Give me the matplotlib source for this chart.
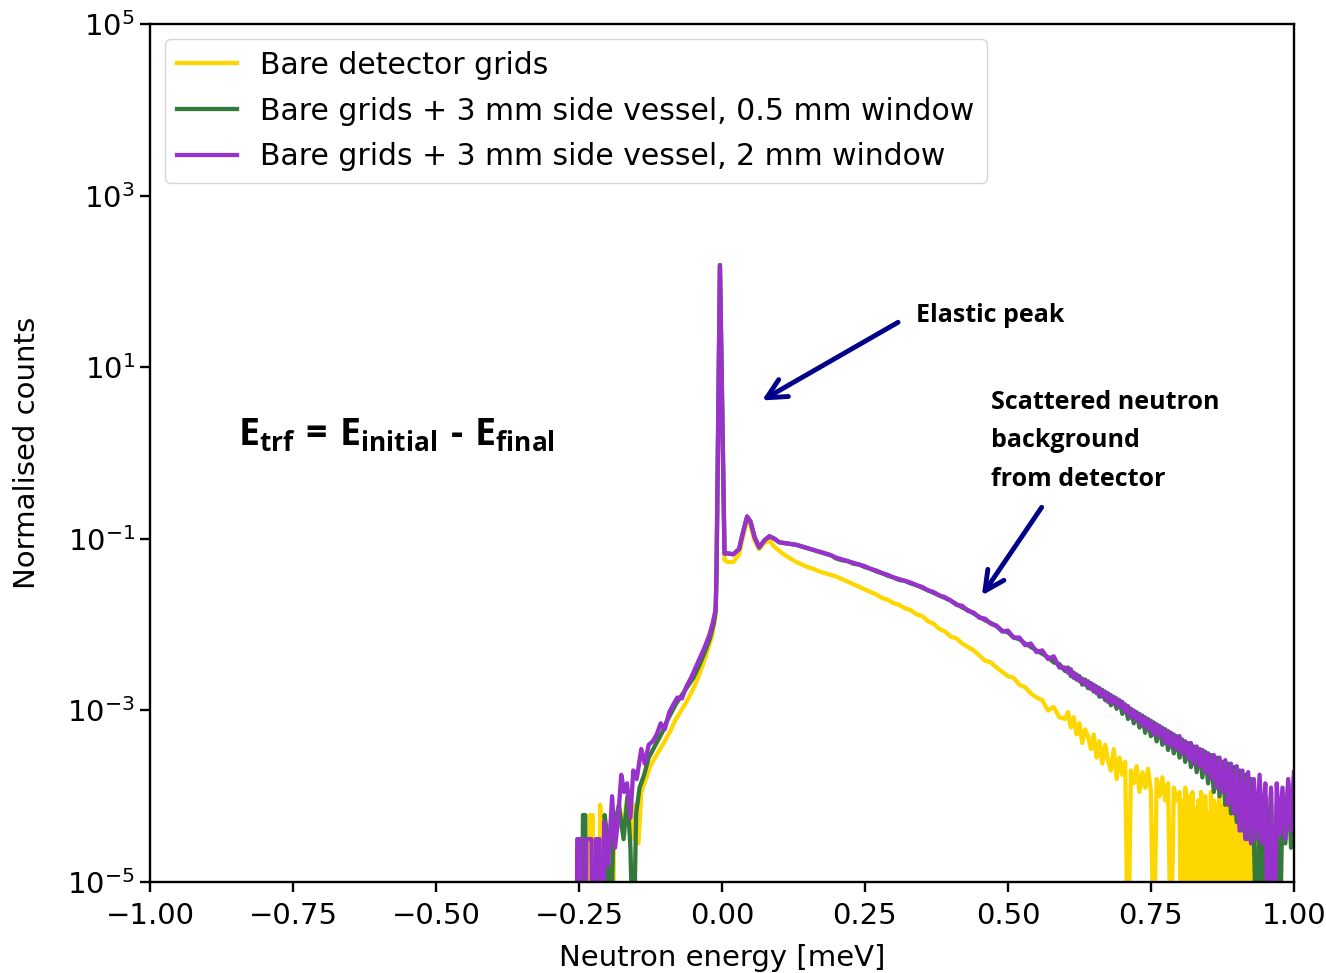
import numpy as np
import matplotlib
matplotlib.use('Agg')
import matplotlib.pyplot as plt
from matplotlib.ticker import NullLocator

# shared energy grid for the tail (meV)
e_tail = [0.20, 0.21, 0.22, 0.23, 0.24, 0.25, 0.26, 0.27, 0.28, 0.29,
          0.30, 0.31, 0.32, 0.33, 0.34, 0.35, 0.36, 0.37, 0.38, 0.39,
          0.40, 0.41, 0.42, 0.43, 0.44, 0.45, 0.46, 0.47, 0.48, 0.49,
          0.50, 0.51, 0.52, 0.53, 0.54, 0.55, 0.56, 0.57, 0.58, 0.59,
          0.600, 0.605, 0.610, 0.615, 0.620, 0.625, 0.630, 0.635, 0.640, 0.645,
          0.650, 0.655, 0.660, 0.665, 0.670, 0.675, 0.680, 0.685, 0.690, 0.695,
          0.700, 0.705, 0.710, 0.715, 0.720, 0.725, 0.730, 0.735, 0.740, 0.745,
          0.750, 0.755, 0.760, 0.765, 0.770, 0.775, 0.780, 0.785, 0.790, 0.795,
          0.800, 0.805, 0.810, 0.815, 0.820, 0.825, 0.830, 0.835, 0.840, 0.845,
          0.850, 0.855, 0.860, 0.865, 0.870, 0.875, 0.880, 0.885, 0.890, 0.895,
          0.900, 0.905, 0.910, 0.915, 0.920, 0.925, 0.930, 0.935, 0.940, 0.945,
          0.950, 0.955, 0.960, 0.965, 0.970, 0.975, 0.980, 0.985, 0.990, 0.995,
          1.000]

# finer bins where the bare-grid curve keeps hitting zero
e_bare_end = [0.8000, 0.8025, 0.8050, 0.8075, 0.8100, 0.8125, 0.8150, 0.8175, 0.8200, 0.8225,
              0.8250, 0.8275, 0.8300, 0.8325, 0.8350, 0.8375, 0.8400, 0.8425, 0.8450, 0.8475,
              0.8500, 0.8525, 0.8550, 0.8575, 0.8600, 0.8625, 0.8650, 0.8675, 0.8700, 0.8725,
              0.8750, 0.8775, 0.8800, 0.8825, 0.8850, 0.8875, 0.8900, 0.8925, 0.8950, 0.8975,
              0.9000, 0.9025, 0.9050, 0.9075, 0.9100, 0.9125, 0.9150, 0.9175, 0.9200, 0.9225,
              0.9250, 0.9275, 0.9300, 0.9325, 0.9350, 0.9375, 0.9400]

# bare detector grids (log10 of normalised counts)
e_bare_head = [-0.232, -0.231, -0.226, -0.225, -0.214, -0.213, -0.208, -0.203, -0.190, -0.189,
               -0.180, -0.172, -0.165, -0.158, -0.152, -0.146, -0.141, -0.134, -0.126, -0.117,
               -0.108, -0.100, -0.091, -0.082, -0.073, -0.062, -0.051, -0.042, -0.033, -0.025,
               -0.017, -0.011, -0.0095, -0.0035, 0.0045, 0.010, 0.020, 0.030, 0.037, 0.044,
               0.050, 0.057, 0.065, 0.074, 0.083, 0.090, 0.100, 0.110, 0.120, 0.130,
               0.140, 0.150, 0.160, 0.170, 0.180, 0.190]
lc_bare_head = [-6, -4.22, -4.22, -6, -6, -4.1, -4.6, -6, -6, -4.4,
                -4.2, -4.3, -4.0, -4.5, -4.1, -4.55, -3.95, -3.82, -3.66, -3.55,
                -3.45, -3.36, -3.25, -3.12, -3.02, -2.90, -2.76, -2.62, -2.46, -2.30,
                -2.12, -1.88, -1.45, 2.19, -1.25, -1.27, -1.27, -1.18, -0.97, -0.78,
                -0.84, -1.02, -1.12, -1.05, -1.02, -1.08, -1.14, -1.19, -1.23, -1.27,
                -1.30, -1.33, -1.35, -1.38, -1.40, -1.42]
lc_bare_tail = [-1.44, -1.47, -1.50, -1.53, -1.56, -1.59, -1.62, -1.65, -1.69, -1.71,
                -1.75, -1.77, -1.81, -1.83, -1.88, -1.90, -1.96, -1.99, -2.05, -2.08,
                -2.14, -2.16, -2.22, -2.26, -2.30, -2.36, -2.42, -2.44, -2.50, -2.55,
                -2.60, -2.62, -2.70, -2.73, -2.80, -2.85, -2.88, -3.00, -2.96, -3.08,
                -3.10, -3.02, -3.20, -3.08, -3.28, -3.15, -3.38, -3.22, -3.30, -3.45,
                -3.28, -3.55, -3.36, -3.62, -3.40, -3.58, -3.70, -3.45, -3.80, -3.55,
                -3.75, -3.60, -6, -3.70, -3.85, -3.65, -3.95, -3.72, -3.90, -3.68,
                -3.95, -6, -3.80, -4.00, -3.78, -4.05, -3.85, -6, -3.90, -4.05]
lc_bare_end = [-3.95, -6, -4.05, -6, -3.90, -4.10, -6, -4.00, -6, -3.95,
               -6, -4.15, -6, -4.05, -6, -3.95, -4.10, -6, -4.00, -6,
               -4.20, -6, -3.95, -6, -4.05, -4.15, -4.10, -6, -4.00, -6,
               -4.10, -6, -4.05, -6, -4.15, -6, -4.00, -6, -4.10, -6,
               -4.05, -4.20, -4.15, -6, -4.05, -6, -4.10, -6, -4.00, -6,
               -4.15, -6, -4.10, -6, -4.20, -6, -6]

# grids + 3 mm side vessel, 0.5 mm window
e_05_head = [-0.244, -0.243, -0.239, -0.238, -0.206, -0.205, -0.200, -0.195, -0.190, -0.180,
             -0.172, -0.165, -0.160, -0.155, -0.150, -0.144, -0.136, -0.128, -0.120, -0.112,
             -0.104, -0.096, -0.088, -0.080, -0.070, -0.060, -0.050, -0.040, -0.030, -0.021,
             -0.014, -0.011, -0.0095, -0.0035, 0.0045, 0.010, 0.020, 0.030, 0.037, 0.044,
             0.050, 0.057, 0.065, 0.074, 0.083, 0.092, 0.100, 0.110, 0.120, 0.130,
             0.140, 0.150, 0.160, 0.170, 0.180, 0.190]
lc_05_head = [-6, -4.22, -4.22, -6, -6, -4.22, -4.5, -6, -4.4, -4.1,
              -4.5, -4.0, -4.6, -6, -4.2, -3.9, -3.75, -3.55, -3.45, -3.35,
              -3.25, -3.12, -3.02, -2.92, -2.82, -2.72, -2.62, -2.48, -2.32, -2.16,
              -1.98, -1.84, -1.4, 2.19, -1.17, -1.17, -1.18, -1.12, -0.92, -0.74,
              -0.80, -0.98, -1.10, -1.02, -0.97, -1.00, -1.04, -1.05, -1.06, -1.07,
              -1.09, -1.11, -1.13, -1.15, -1.17, -1.19]
lc_05_tail = [-1.23, -1.25, -1.26, -1.29, -1.30, -1.33, -1.35, -1.38, -1.40, -1.43,
              -1.45, -1.48, -1.49, -1.52, -1.54, -1.57, -1.60, -1.63, -1.66, -1.69,
              -1.72, -1.76, -1.80, -1.83, -1.87, -1.91, -1.95, -1.98, -2.02, -2.07,
              -2.09, -2.15, -2.17, -2.22, -2.26, -2.30, -2.34, -2.38, -2.44, -2.46,
              -2.54, -2.50, -2.60, -2.56, -2.64, -2.60, -2.70, -2.64, -2.74, -2.68,
              -2.78, -2.72, -2.84, -2.76, -2.88, -2.80, -2.94, -2.84, -2.98, -2.88,
              -3.04, -2.93, -3.10, -2.98, -3.15, -3.02, -3.20, -3.06, -3.26, -3.10,
              -3.30, -3.14, -3.36, -3.18, -3.40, -3.22, -3.46, -3.26, -3.50, -3.30,
              -3.55, -3.34, -3.60, -3.38, -3.66, -3.42, -3.72, -3.45, -3.78, -3.48,
              -3.85, -3.52, -3.95, -3.55, -4.00, -3.60, -4.10, -3.62, -4.20, -3.66,
              -4.30, -3.70, -4.40, -3.75, -4.50, -3.80, -4.45, -6, -3.90, -6,
              -4.00, -4.60, -3.95, -6, -4.10, -6, -4.00, -4.55, -3.85, -4.60,
              -3.80]

# grids + 3 mm side vessel, 2 mm window
e_2mm_head = [-0.254, -0.253, -0.246, -0.245, -0.238, -0.237, -0.228, -0.227, -0.221, -0.220,
              -0.214, -0.213, -0.207, -0.206, -0.199, -0.192, -0.187, -0.182, -0.176, -0.171,
              -0.166, -0.160, -0.155, -0.149, -0.141, -0.135, -0.128, -0.121, -0.114, -0.107,
              -0.100, -0.092, -0.084, -0.078, -0.070, -0.062, -0.054, -0.046, -0.038, -0.030,
              -0.022, -0.016, -0.011, -0.0095, -0.0035, 0.0045, 0.010, 0.020, 0.030, 0.037,
              0.044, 0.050, 0.057, 0.065, 0.074, 0.083, 0.092, 0.100, 0.110, 0.120,
              0.130, 0.140, 0.150, 0.160, 0.170, 0.180, 0.190]
lc_2mm_head = [-6, -4.5, -4.5, -6, -6, -4.5, -4.5, -6, -6, -4.5,
               -4.5, -6, -6, -4.3, -4.8, -4.0, -4.6, -4.3, -3.75, -3.95,
               -3.85, -4.25, -3.7, -3.8, -3.45, -3.62, -3.40, -3.36, -3.28, -3.15,
               -3.22, -3.02, -2.92, -2.85, -2.86, -2.72, -2.62, -2.50, -2.38, -2.26,
               -2.12, -1.98, -1.82, -1.4, 2.19, -1.17, -1.17, -1.18, -1.12, -0.92,
               -0.74, -0.80, -0.98, -1.10, -1.02, -0.97, -1.00, -1.04, -1.05, -1.06,
               -1.07, -1.09, -1.11, -1.13, -1.15, -1.17, -1.19]
lc_2mm_tail = [-1.22, -1.24, -1.26, -1.28, -1.30, -1.32, -1.35, -1.37, -1.40, -1.42,
               -1.45, -1.47, -1.49, -1.51, -1.54, -1.56, -1.60, -1.62, -1.66, -1.68,
               -1.72, -1.77, -1.78, -1.84, -1.86, -1.92, -1.93, -1.99, -2.01, -2.08,
               -2.07, -2.15, -2.15, -2.24, -2.22, -2.32, -2.30, -2.40, -2.37, -2.50,
               -2.50, -2.56, -2.52, -2.62, -2.58, -2.66, -2.63, -2.70, -2.66, -2.75,
               -2.70, -2.80, -2.74, -2.84, -2.78, -2.90, -2.82, -2.92, -2.86, -2.96,
               -2.90, -3.02, -2.95, -3.08, -3.00, -3.12, -3.04, -3.18, -3.08, -3.22,
               -3.12, -3.28, -3.16, -3.30, -3.20, -3.38, -3.24, -3.42, -3.28, -3.46,
               -3.30, -3.50, -3.36, -3.56, -3.38, -3.62, -3.42, -3.66, -3.46, -3.72,
               -3.50, -3.80, -3.52, -3.90, -3.55, -3.95, -3.58, -4.10, -3.62, -4.20,
               -3.65, -4.40, -3.70, -4.50, -3.72, -4.55, -3.80, -4.50, -3.75, -4.55,
               -3.85, -6, -3.90, -6, -3.85, -4.45, -3.90, -4.50, -3.80, -4.40,
               -3.72]

labels = ['Bare detector grids',
          'Bare grids + 3 mm side vessel, 0.5 mm window',
          'Bare grids + 3 mm side vessel, 2 mm window']
colors = ['#ffd700', '#347a3c', '#9932cc']

plt.rcParams['font.size'] = 21
plt.rcParams['axes.linewidth'] = 1.7
plt.rcParams['mathtext.fontset'] = 'custom'
plt.rcParams['mathtext.rm'] = 'Open Sans:bold'
plt.rcParams['mathtext.it'] = 'Open Sans:bold'
plt.rcParams['mathtext.bf'] = 'Open Sans:bold'

fig = plt.figure(figsize=(13.26, 9.73), dpi=100)
ax = fig.add_axes([0.1131, 0.0935, 0.8627, 0.8818])

curves = [(e_bare_head + e_tail[:80] + e_bare_end, lc_bare_head + lc_bare_tail + lc_bare_end),
          (e_05_head + e_tail, lc_05_head + lc_05_tail),
          (e_2mm_head + e_tail, lc_2mm_head + lc_2mm_tail)]
for (ex, lc), lab, col in zip(curves, labels, colors):
    ax.plot(np.array(ex), 10.0 ** np.array(lc), color=col, lw=3.1, label=lab)

ax.set_yscale('log')
ax.set_xlim(-1, 1)
ax.set_ylim(1e-5, 1e5)
ax.set_yticks([1e-5, 1e-3, 1e-1, 1e1, 1e3, 1e5])
ax.yaxis.set_minor_locator(NullLocator())
ax.set_xticks([-1, -0.75, -0.5, -0.25, 0, 0.25, 0.5, 0.75, 1.0])
ax.xaxis.set_major_formatter(plt.FuncFormatter(lambda v, p: f'{v:.2f}'.replace('-', '\u2212')))
ax.tick_params(which='major', length=7.3, width=1.7, labelsize=21)
ax.tick_params(axis='x', pad=7)
ax.set_xlabel('Neutron energy [meV]', fontsize=21, labelpad=10)
ax.set_ylabel('Normalised counts', fontsize=21, labelpad=19)

ax.legend(loc='upper left', fontsize=21.5, framealpha=0.8, labelspacing=0.56)

# annotations
ax.text(-0.846, 1.23, r'$E_{trf}\ \text{=}\ E_{initial}\ \text{-}\ E_{final}$',
        fontsize=27, va='baseline', ha='left')
afont = dict(family='Open Sans', weight='bold', fontsize=18, va='baseline', ha='left')
ax.text(0.339, 33.4, 'Elastic peak', **afont)
ax.text(0.470, 3.24, 'Scattered neutron', **afont)
ax.text(0.470, 1.17, 'background', **afont)
ax.text(0.470, 0.41, 'from detector', **afont)

arrow = dict(arrowstyle='->,head_length=0.7,head_width=0.35', color='#00008b',
             lw=3.5, mutation_scale=20, shrinkA=0, shrinkB=0)
ax.annotate('', xy=(0.070, 4.1), xytext=(0.308, 33.4), arrowprops=arrow)
ax.annotate('', xy=(0.4545, 0.0219), xytext=(0.559, 0.233), arrowprops=arrow)

fig.savefig('out.png', dpi=100)
